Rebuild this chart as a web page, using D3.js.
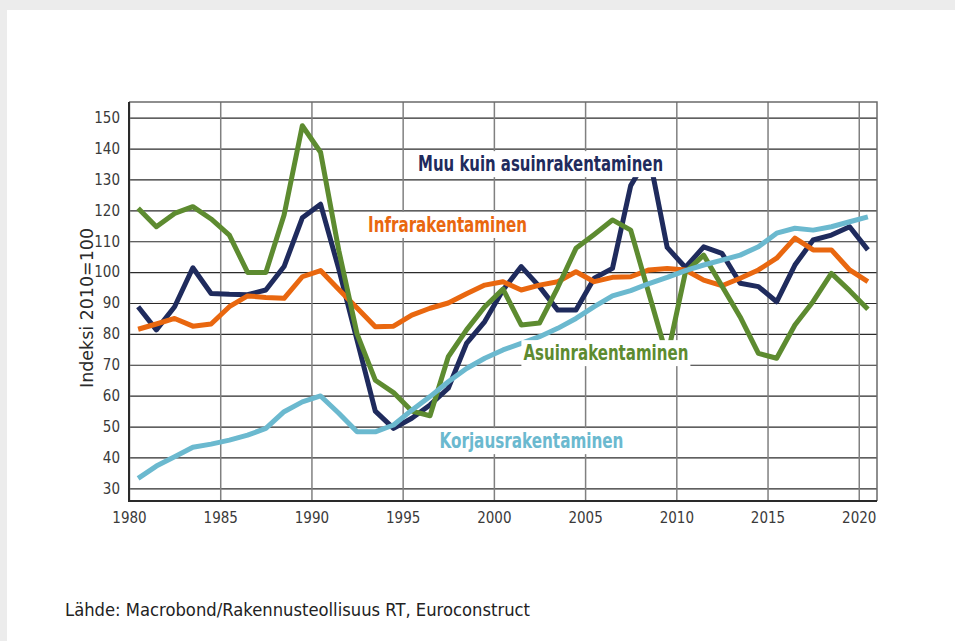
<!DOCTYPE html>
<html>
<head>
<meta charset="utf-8">
<script src="https://cdn.jsdelivr.net/npm/d3@7/dist/d3.min.js"></script>
<style>
	body { margin: 0; background: #ececec; }
	svg { display: block; }
	text { font-family: 'DejaVu Sans Condensed', 'DejaVu Sans', sans-serif; font-stretch: condensed; }
</style>
</head>
<body>
<svg id="chart" width="955" height="641"></svg>
<script>
// yearly values, index 2010=100 (points sit in the middle of each year)
var years = d3.range(1980, 2021);

var muuKuin = [88.8, 81.3, 88.8, 101.4, 93.1, 92.8, 92.7, 94.2, 101.8, 117.6,
	122.0, 101, 78, 55, 49.4, 52.7, 57, 62.4, 76.9, 84,
	94.2, 101.8, 95.3, 87.7, 87.7, 98, 101.2, 128, 138, 108,
	101.5, 108.2, 106.1, 96.4, 95.3, 90.4, 102.3, 110.4, 112, 114.7,
	107.2];

var infra = [81.5, 83.2, 85, 82.5, 83.2, 88.8, 92.3, 91.8, 91.5, 98.5,
	100.5, 94.4, 88.4, 82.3, 82.5, 86.1, 88.3, 90, 93, 95.8,
	96.9, 94.2, 95.8, 96.9, 100.1, 96.9, 98.3, 98.5, 100.7, 101.2,
	100.7, 97.4, 95.6, 98, 100.7, 104.5, 111, 107.2, 107.2, 100.7,
	96.9];

var asuin = [120.7, 114.7, 119.0, 121.2, 117.2, 112.0, 99.9, 99.9, 118.5, 147.4,
	138.8, 107, 80, 65, 61, 55, 53.5, 72.6, 81.3, 88.8,
	94.5, 82.9, 83.5, 95, 107.7, 112.2, 116.9, 113.6, 93, 72.5,
	100, 105.5, 95.5, 85.5, 73.7, 72.1, 82.9, 90.5, 99.6, 94,
	88];

var korjaus = [33.2, 37.2, 40.2, 43.3, 44.3, 45.6, 47.2, 49.4, 54.8, 58,
	59.9, 54.3, 48.3, 48.3, 50.5, 55.3, 59.7, 64.5, 68.8, 72.1,
	74.8, 76.9, 79.1, 81.8, 85, 88.8, 92.3, 94, 96.3, 98.3,
	100.5, 102.3, 103.9, 105.5, 108.2, 112.6, 114.2, 113.6, 114.7, 116.3,
	117.9];

var seriesNames = ['Muu kuin asuinrakentaminen', 'Infrarakentaminen', 'Asuinrakentaminen', 'Korjausrakentaminen'];
var seriesValues = [muuKuin, infra, asuin, korjaus];

var yTicks = [30, 40, 50, 60, 70, 80, 90, 100, 110, 120, 130, 140, 150];
var xTicks = [1980, 1985, 1990, 1995, 2000, 2005, 2010, 2015, 2020];

var yTitle = 'Indeksi 2010=100';
var sourceText = 'Lähde: Macrobond/Rakennusteollisuus RT, Euroconstruct';

// --- drawing ---
var colors = ['#1f2b5d', '#e9670f', '#5d8b30', '#6bb9cf'];
// where each series label sits, in data units (year, value at baseline), and its drawn width
var labelSpots = [
	{year: 2002.56, value: 132.7, width: 245},
	{year: 1997.46, value: 113.0, width: 159},
	{year: 2006.14, value: 71.5, width: 165},
	{year: 2002.06, value: 43.0, width: 184}
];

var svg = d3.select('#chart');

svg.append('rect')
	.attr('x', 7).attr('y', 10)
	.attr('width', 948).attr('height', 631)
	.attr('fill', '#fff');

var plotLeft = 129, plotRight = 877, plotTop = 102, plotBottom = 501;

var xScale = d3.scaleLinear()
	.domain([1980, 2021])
	.range([plotLeft, plotRight]);

var yScale = d3.scaleLinear()
	.domain([30, 150])
	.range([488.3, 117.7]);

// horizontal grid + y labels
var yAxis = svg.append('g')
	.attr('transform', 'translate(' + plotLeft + ',0)')
	.call(d3.axisLeft(yScale).tickValues(yTicks).tickSize(-(plotRight - plotLeft)).tickPadding(9));
yAxis.select('.domain').remove();
yAxis.selectAll('line').attr('stroke', '#2b2b2b').attr('stroke-width', 1.2);
yAxis.selectAll('text').attr('font-size', 15).attr('fill', '#3a3a3a');

// vertical grid + x labels
var xAxis = svg.append('g')
	.attr('transform', 'translate(0,' + plotBottom + ')')
	.call(d3.axisBottom(xScale).tickValues(xTicks).tickFormat(d3.format('d'))
		.tickSize(-(plotBottom - plotTop)).tickPadding(11));
xAxis.select('.domain').remove();
xAxis.selectAll('line').attr('stroke', '#808080').attr('stroke-width', 1.5);
xAxis.selectAll('text').attr('font-size', 15).attr('fill', '#3a3a3a');

// frame: gray top/right, dark left/bottom
svg.append('path')
	.attr('d', 'M' + plotLeft + ',' + plotTop + 'H' + plotRight + 'V' + plotBottom)
	.attr('fill', 'none').attr('stroke', '#6a6a6a').attr('stroke-width', 1.5);
svg.append('path')
	.attr('d', 'M' + plotLeft + ',' + plotTop + 'V' + plotBottom + 'H' + plotRight)
	.attr('fill', 'none').attr('stroke', '#2a2a2a').attr('stroke-width', 2);

// series lines
var lineGenerator = d3.line()
	.x(function(d){ return xScale(d[0] + 0.5); })
	.y(function(d){ return yScale(d[1]); });

var lineGroup = svg.append('g').classed('lineGroup', true);
seriesValues.forEach(function(values, i){
	lineGroup.append('path')
		.datum(years.map(function(y, j){ return [y, values[j]]; }))
		.attr('fill', 'none')
		.attr('stroke', colors[i])
		.attr('stroke-width', 5)
		.attr('stroke-linejoin', 'round')
		.attr('d', lineGenerator);
});

// series labels on white boxes
var labelGroup = svg.append('g').classed('labelGroup', true);
seriesNames.forEach(function(name, i){
	var spot = labelSpots[i];
	var cx = xScale(spot.year), by = yScale(spot.value);
	labelGroup.append('rect')
		.attr('x', cx - spot.width / 2 - 2)
		.attr('y', by - 20)
		.attr('width', spot.width + 4)
		.attr('height', 26)
		.attr('fill', '#fff');
	labelGroup.append('text')
		.attr('x', cx).attr('y', by)
		.attr('text-anchor', 'middle')
		.attr('font-size', 21)
		.attr('font-weight', 'bold')
		.attr('fill', colors[i])
		.attr('textLength', spot.width)
		.attr('lengthAdjust', 'spacingAndGlyphs')
		.text(name);
});

// y title
svg.append('text')
	.attr('transform', 'translate(93,308) rotate(-90)')
	.attr('text-anchor', 'middle')
	.attr('font-size', 17)
	.attr('fill', '#2a2a2a')
	.attr('textLength', 160)
	.attr('lengthAdjust', 'spacingAndGlyphs')
	.text(yTitle);

// source
svg.append('text')
	.attr('x', 65).attr('y', 616)
	.attr('font-size', 18)
	.attr('fill', '#222')
	.attr('textLength', 465)
	.attr('lengthAdjust', 'spacingAndGlyphs')
	.text(sourceText);
</script>
</body>
</html>
